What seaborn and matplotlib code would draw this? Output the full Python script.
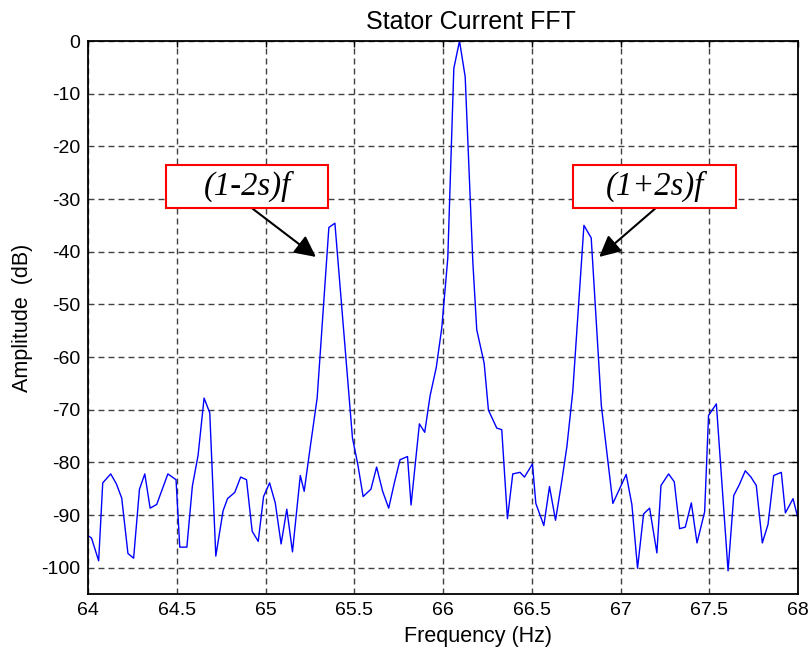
import matplotlib
matplotlib.use("Agg")
import matplotlib.pyplot as plt
import seaborn as sns
import pandas as pd
from matplotlib.patches import Rectangle

# ---- data ----
freq_hz = [
    64.000, 64.020, 64.060, 64.083, 64.128, 64.160, 64.190, 64.225, 64.257, 64.290,
    64.320, 64.350, 64.387, 64.450, 64.496, 64.517, 64.557, 64.588, 64.620, 64.654,
    64.686, 64.720, 64.761, 64.786, 64.827, 64.860, 64.893, 64.925, 64.959, 64.989,
    65.023, 65.055, 65.088, 65.120, 65.152, 65.196, 65.218, 65.250, 65.291, 65.357,
    65.391, 65.490, 65.520, 65.550, 65.594, 65.626, 65.660, 65.694, 65.726, 65.758,
    65.800, 65.820, 65.867, 65.897, 65.927, 65.962, 65.993, 66.027, 66.061, 66.093,
    66.125, 66.168, 66.190, 66.232, 66.256, 66.303, 66.331, 66.363, 66.393, 66.434,
    66.459, 66.504, 66.523, 66.568, 66.600, 66.634, 66.669, 66.698, 66.731, 66.794,
    66.835, 66.892, 66.957, 67.032, 67.064, 67.096, 67.130, 67.164, 67.205, 67.228,
    67.271, 67.303, 67.333, 67.365, 67.399, 67.431, 67.474, 67.496, 67.540, 67.606,
    67.638, 67.670, 67.703, 67.735, 67.765, 67.799, 67.831, 67.863, 67.906, 67.929,
    67.972, 68.004, 68.020,
]
amplitude_db = [
    -93.9, -94.4, -98.7, -83.9, -82.2, -84.1, -86.8, -97.3, -98.2, -85.1,
    -82.2, -88.7, -88.0, -82.2, -83.3, -96.1, -96.1, -84.5, -78.7, -67.8,
    -70.6, -97.8, -89.2, -86.9, -85.7, -82.8, -83.3, -93.1, -95.0, -86.5,
    -83.9, -87.7, -95.5, -88.9, -97.0, -82.5, -85.5, -77.6, -67.8, -35.4,
    -34.6, -75.4, -80.4, -86.5, -85.1, -80.9, -85.5, -88.7, -83.9, -79.5,
    -78.9, -88.1, -72.7, -74.3, -67.4, -62.0, -54.5, -41.2, -5.2, 0.0,
    -6.8, -41.9, -54.8, -61.2, -70.1, -73.5, -73.8, -90.7, -82.2, -81.9,
    -82.8, -80.3, -87.8, -92.0, -84.6, -91.0, -83.6, -77.0, -66.6, -35.0,
    -37.4, -69.2, -87.8, -82.3, -88.0, -100.1, -89.8, -88.7, -97.2, -84.4,
    -82.2, -83.7, -92.6, -92.3, -87.7, -95.3, -89.4, -71.1, -68.9, -100.6,
    -86.3, -84.2, -81.6, -82.8, -84.4, -95.3, -91.8, -82.5, -81.9, -89.6,
    -86.9, -91.2, -91.0,
]
x_ticks = [64, 64.5, 65, 65.5, 66, 66.5, 67, 67.5, 68]
x_tick_labels = ["64", "64.5", "65", "65.5", "66", "66.5", "67", "67.5", "68"]
y_ticks = [0, -10, -20, -30, -40, -50, -60, -70, -80, -90, -100]
y_tick_labels = ["0", "-10", "-20", "-30", "-40", "-50", "-60", "-70", "-80", "-90", "-100"]
annotation_labels = ["(1-2s)f", "(1+2s)f"]

df = pd.DataFrame({"Frequency": freq_hz, "Amplitude": amplitude_db})

sns.set_style("white")
plt.rcParams["font.family"] = ["Liberation Sans", "DejaVu Sans"]

fig = plt.figure(figsize=(8.11, 6.59), dpi=100)
ax = fig.add_axes([88 / 811, 1 - 594 / 659, (798 - 88) / 811, (594 - 41) / 659])

sns.lineplot(data=df, x="Frequency", y="Amplitude", ax=ax, color="#0000FF",
             linewidth=1.0, sort=False, estimator=None)

ax.set_xlim(64, 68)
ax.set_ylim(-105, 0)
ax.set_xticks(x_ticks)
ax.set_xticklabels(x_tick_labels)
ax.set_yticks(y_ticks)
ax.set_yticklabels(y_tick_labels)
ax.tick_params(axis="both", labelsize=14, direction="in", length=4, width=1,
               color="black", labelcolor="black", top=True, right=True, pad=5.5)

ax.grid(True, color="#202020", linewidth=1.0, linestyle=(0, (4.3, 2.9)), alpha=0.85)
for s in ax.spines.values():
    s.set_visible(True)
    s.set_color("black")
    s.set_linewidth(1.3)

ax.set_xlabel("Frequency (Hz)", fontsize=15.5, color="black", labelpad=5)
ax.xaxis.set_label_coords((478 - 88) / 710, -0.058)
ax.set_ylabel("Amplitude  (dB)", fontsize=15.5, color="black", labelpad=6)
ax.set_title("Stator Current FFT", fontsize=18, color="black", pad=8.5,
             x=(471 - 88) / 710)

# annotation boxes
boxes = [(64.440, 65.354), (66.734, 67.653)]
arrows = [((64.922, -31.7), (65.284, -41.0)), ((67.196, -31.8), (66.880, -41.0))]
for label, (bx0, bx1), (start, tip) in zip(annotation_labels, boxes, arrows):
    ax.annotate("", xy=tip, xytext=start,
                arrowprops=dict(arrowstyle="-|>", color="black", lw=1.5,
                                mutation_scale=32, shrinkA=0, shrinkB=0), zorder=5)
    ax.add_patch(Rectangle((bx0, -31.7), bx1 - bx0, 8.2, facecolor="white",
                           edgecolor="#FF0000", linewidth=1.5, zorder=6))
    ax.text((bx0 + bx1) / 2, -27.6, label, ha="center", va="center",
            fontsize=23.5, fontstyle="italic", family=["Liberation Serif", "DejaVu Serif"],
            color="black", zorder=7)

fig.savefig("out.png", dpi=100)
